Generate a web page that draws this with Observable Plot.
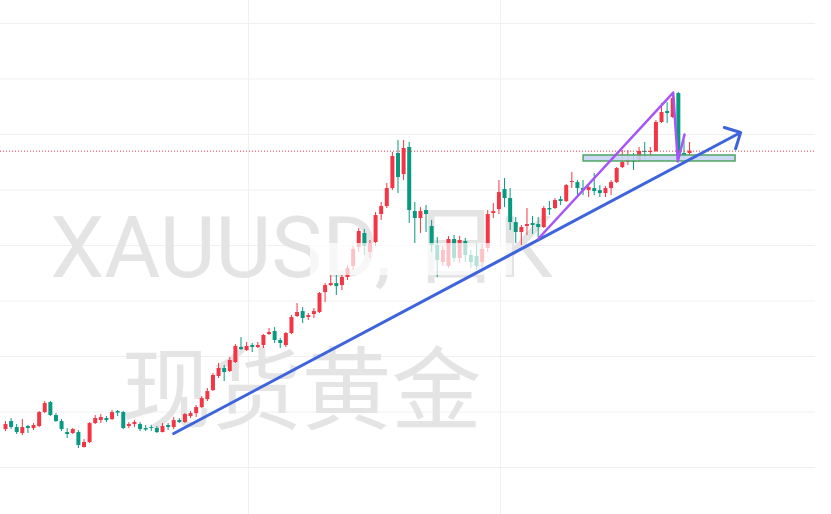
<!DOCTYPE html>
<html><head><meta charset="utf-8">
<script src="https://cdn.jsdelivr.net/npm/d3@7"></script>
<script src="https://cdn.jsdelivr.net/npm/@observablehq/plot@0.6"></script>
<style>html,body{margin:0;padding:0;background:#fff;overflow:hidden}</style>
</head><body><div id="chart"></div>
<script>
// XAUUSD candles (red = up, green = down)
const open = [1842,1914,1860,1806,1869,1851,1869,1995,2085,1968,
1914,1815,1806,1815,1680,1725,1896,1923,1941,1932,
2004,1995,1869,1887,1887,1851,1860,1851,1815,1878,
1860,1923,1905,1959,1986,2040,2112,2193,2320,2392,
2365,2446,2581,2554,2599,2581,2599,2698,2725,2644,
2599,2707,2860,2905,2851,2878,2896,3076,3139,3157,
3139,3212,3311,3482,3608,3437,3527,3779,3851,4013,
4329,4139,4383,3806,3743,3815,3671,3500,3347,3311,
3554,3383,3536,3410,3401,3347,3473,3788,3824,4004,
3923,3707,3617,3671,3698,3689,3662,3833,3833,3914,
3896,4067,4067,4013,3995,4013,3995,3968,4013,4067,
4202,4248,4257,4266,4347,4338,4347,4608,4707,4653,
4869,4329,4329];
const high = [1914,1941,1887,1932,1878,1896,2004,2094,2094,1986,
1932,1851,1851,1833,1752,1905,1968,1977,1959,2013,
2013,2004,1905,1923,1905,1878,1878,1869,1896,1896,
1950,1941,1986,2004,2058,2139,2212,2347,2437,2419,
2491,2608,2671,2626,2617,2626,2698,2752,2761,2662,
2716,2869,2977,2941,2887,2932,3076,3157,3230,3230,
3230,3320,3491,3653,3644,3545,3797,3887,4058,4338,
4446,4446,4428,3887,3842,3860,3725,3572,3491,3581,
3590,3581,3563,3455,3518,3509,3815,3878,4085,4103,
4013,3752,3680,3833,3761,3752,3851,3896,3923,3941,
4049,4157,4085,4085,4058,4148,4040,4031,4085,4202,
4356,4356,4329,4383,4428,4383,4626,4779,4788,4878,
4878,4446,4428];
const low = [1824,1842,1797,1788,1806,1833,1860,1986,1959,1905,
1824,1761,1797,1671,1675,1716,1887,1896,1905,1923,
1959,1842,1851,1860,1824,1824,1824,1806,1812,1833,
1842,1896,1896,1941,1950,2031,2094,2184,2302,2275,
2356,2437,2554,2545,2536,2572,2572,2689,2617,2572,
2581,2698,2851,2797,2824,2842,2887,2986,3130,3049,
3094,3184,3275,3437,3410,3383,3491,3725,3833,3995,
3968,4085,3698,3518,3608,3617,3437,3212,3311,3293,
3347,3338,3347,3293,3275,3302,3437,3743,3779,3842,
3635,3518,3500,3590,3599,3572,3653,3770,3824,3860,
3887,4013,3941,3950,3932,3950,3932,3932,3950,4058,
4193,4221,4175,4248,4266,4284,4338,4599,4599,4644,
4266,4284,4311];
const close = [1887,1860,1815,1860,1851,1878,1995,2076,1968,1914,
1842,1797,1842,1698,1725,1896,1941,1950,1923,1995,
1990,1851,1887,1905,1842,1838,1851,1815,1869,1860,
1923,1905,1977,1986,2040,2121,2184,2329,2392,2356,
2464,2590,2563,2590,2581,2599,2689,2716,2644,2617,
2707,2851,2896,2842,2869,2905,3067,3139,3157,3130,
3212,3293,3464,3626,3491,3518,3770,3851,4013,4302,
4112,4374,3815,3743,3806,3779,3500,3365,3455,3554,
3383,3545,3410,3347,3311,3464,3779,3806,3977,3923,
3707,3617,3662,3689,3680,3662,3833,3820,3905,3896,
4040,4076,4013,3995,4022,3986,3968,4013,4067,4193,
4248,4257,4248,4347,4338,4347,4608,4698,4689,4824,
4311,4311,4350];

// drawings (candle index, price)
const blueTrend = [{x1: 30, y1: 1806, x2: 131.1, y2: 4518}];
const purplePath = [[95.06, 3563], [119.08, 4878], [119.9, 4257], [121.1, 4500]];
const zoneBox = [{x1: 103.1, x2: 130.2, y1: 4257, y2: 4311}];
const veilBox = [{x1: 54.4, x2: 90.4, y1: 3230, y2: 3518}];
const priceGrid = [1500, 2000, 2500, 3000, 3500, 4000, 4500, 5000, 5500];
const timeGrid = [43.34, 88.28];
const watermark1 = ["XAUUSD, 日K"];
const watermark2 = ["现货黄金"];

const candles = open.map((o, i) => ({i, o, h: high[i], l: low[i], c: close[i], up: close[i] >= o}));
const UP = "#f23645", DOWN = "#089981";
const col = d => d.up ? UP : DOWN;

const chart = Plot.plot({
  width: 831, height: 514,
  marginLeft: 0, marginRight: 16, marginTop: 0, marginBottom: 0,
  x: {domain: [-0.892, 144.46], axis: null},
  y: {domain: [1076.6, 5707.2], axis: null},
  style: {background: "#fff"},
  marks: [
    Plot.gridY(priceGrid, {stroke: "#eef0f3", strokeOpacity: 1}),
    Plot.gridX(timeGrid, {stroke: "#eef0f3", strokeOpacity: 1}),
    Plot.text(watermark1, {frameAnchor: "top-left", lineAnchor: "middle", dx: 301, dy: 249, text: d => d, textAnchor: "middle",
      fontSize: 86, fontFamily: "Roboto, 'Noto Sans CJK SC', sans-serif", fill: "#e4e4e4"}),
    Plot.text(watermark2, {frameAnchor: "top-left", lineAnchor: "middle", dx: 301, dy: 393, text: d => d, textAnchor: "middle",
      fontSize: 90, fontFamily: "'Noto Sans CJK SC', sans-serif", fill: "#e4e4e4"}),
    Plot.ruleX(candles, {x: "i", y1: "l", y2: "h", stroke: col, strokeWidth: 1}),
    Plot.ruleX(candles, {x: "i", y1: "o", y2: "c", stroke: col, strokeWidth: 4, strokeLinecap: "butt"}),
    Plot.rect(veilBox, {x1: "x1", x2: "x2", y1: "y1", y2: "y2", fill: "#fff", fillOpacity: 0.7, ariaLabel: "veil"}),
    Plot.ruleY([close[close.length - 1]], {stroke: UP, strokeWidth: 1, strokeDasharray: "1,2"}),
    Plot.rect(zoneBox, {x1: "x1", x2: "x2", y1: "y1", y2: "y2", fill: "#c6d5f3", fillOpacity: 0.9, stroke: "#4fa562", strokeWidth: 1.5}),
    Plot.arrow(blueTrend, {x1: "x1", y1: "y1", x2: "x2", y2: "y2", stroke: "#3d64dc", strokeWidth: 3, headAngle: 90, headLength: 8.5}),
    Plot.line(purplePath, {stroke: "#a855f7", strokeWidth: 2.5})
  ]
});
d3.select(chart).select('g[aria-label="veil"]').style("filter", "blur(5px)");
document.getElementById("chart").appendChild(chart);
</script>
</body></html>
